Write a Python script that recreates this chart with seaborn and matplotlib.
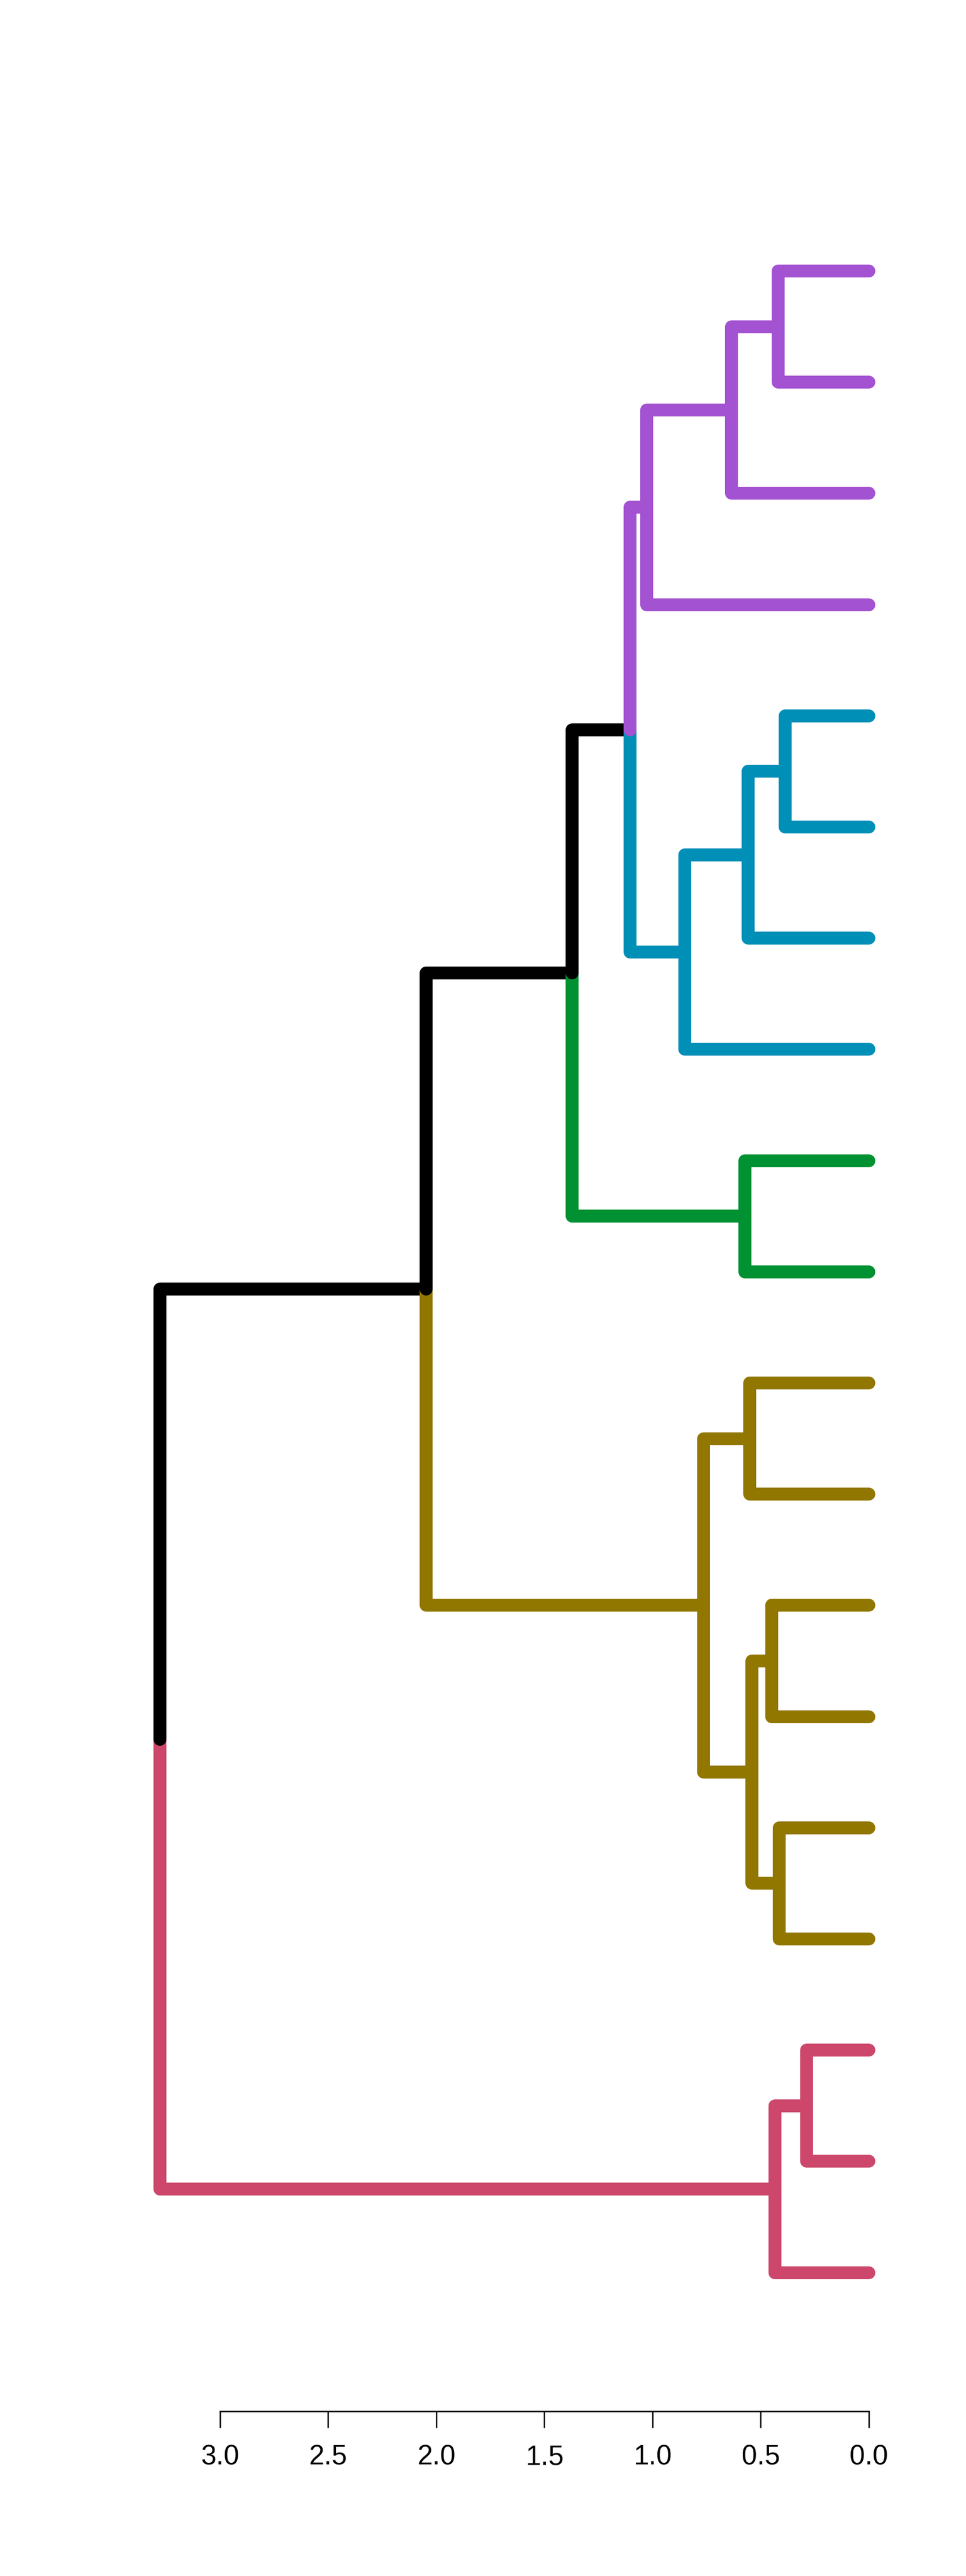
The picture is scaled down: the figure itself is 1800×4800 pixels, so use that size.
import matplotlib
matplotlib.use("Agg")
import matplotlib.pyplot as plt
import seaborn as sns

# ---- data -------------------------------------------------------------
# leaves listed top-to-bottom, with the cluster each belongs to
leaf_cluster = ["k5"] * 4 + ["k4"] * 4 + ["k3"] * 2 + ["k2"] * 6 + ["k1"] * 3
cluster_colors = {"k1": "#CC476B", "k2": "#917700", "k3": "#009232",
                  "k4": "#008FB7", "k5": "#A352D1"}
merge_color_mixed = "#000000"

# merges (scipy-like): new node id = n_leaves + merge index
merge_left = [0, 19, 20, 4, 22, 23, 21, 8, 25, 10, 12, 14, 29, 28, 27, 16, 34, 33]
merge_right = [1, 2, 3, 5, 6, 7, 24, 9, 26, 11, 13, 15, 30, 31, 32, 17, 18, 35]
merge_height = [0.420, 0.634, 1.028, 0.386, 0.558, 0.850, 1.105, 0.572, 1.372,
                0.552, 0.448, 0.414, 0.540, 0.765, 2.048, 0.287, 0.433, 3.277]

tick_values = [3.0, 2.5, 2.0, 1.5, 1.0, 0.5, 0.0]

# ---- build tree -------------------------------------------------------
n_leaves = len(leaf_cluster)
pos, height, color, children = {}, {}, {}, {}
for i, cl in enumerate(leaf_cluster):
    pos[i] = float(i)
    height[i] = 0.0
    color[i] = cluster_colors[cl]
for k, (a, b, h) in enumerate(zip(merge_left, merge_right, merge_height)):
    nid = n_leaves + k
    children[nid] = (a, b)
    pos[nid] = (pos[a] + pos[b]) / 2.0
    height[nid] = h
    color[nid] = color[a] if color[a] == color[b] else merge_color_mixed
root = n_leaves + len(merge_height) - 1

# ---- figure -----------------------------------------------------------
sns.set_style("white")
plt.rcParams["font.family"] = ["Liberation Sans", "DejaVu Sans"]

fig = plt.figure(figsize=(18, 48), dpi=100)
ax = fig.add_axes([200 / 1800, (4800 - 4493) / 4800, 1500 / 1800, (4493 - 200) / 4800])

LW = 17.3


def draw(node):
    # lower child first (as R's plot.dendrogram with horiz=TRUE)
    for c in sorted(children[node], key=lambda c: -pos[c]):
        ax.plot([height[node], height[node], height[c]],
                [pos[node], pos[c], pos[c]],
                color=color[c], lw=LW, solid_capstyle="round",
                solid_joinstyle="round", clip_on=False)
        if c in children:
            draw(c)


draw(root)

ax.set_xlim(3.521, -0.201)
ax.set_ylim(19.247, -1.472)

for side in ["top", "left", "right"]:
    ax.spines[side].set_visible(False)
ax.spines["bottom"].set_bounds(0, 3)
ax.spines["bottom"].set_linewidth(1.8)
ax.spines["bottom"].set_color("black")
ax.set_yticks([])
ax.set_xticks(tick_values)
ax.set_xticklabels([f"{v:.1f}" for v in tick_values])
ax.tick_params(axis="x", direction="out", length=22.3, width=1.8,
               pad=22, labelsize=37, colors="black", bottom=True)
ax.set_facecolor("white")
fig.patch.set_facecolor("white")

fig.savefig("out.png", dpi=100, facecolor="white")
